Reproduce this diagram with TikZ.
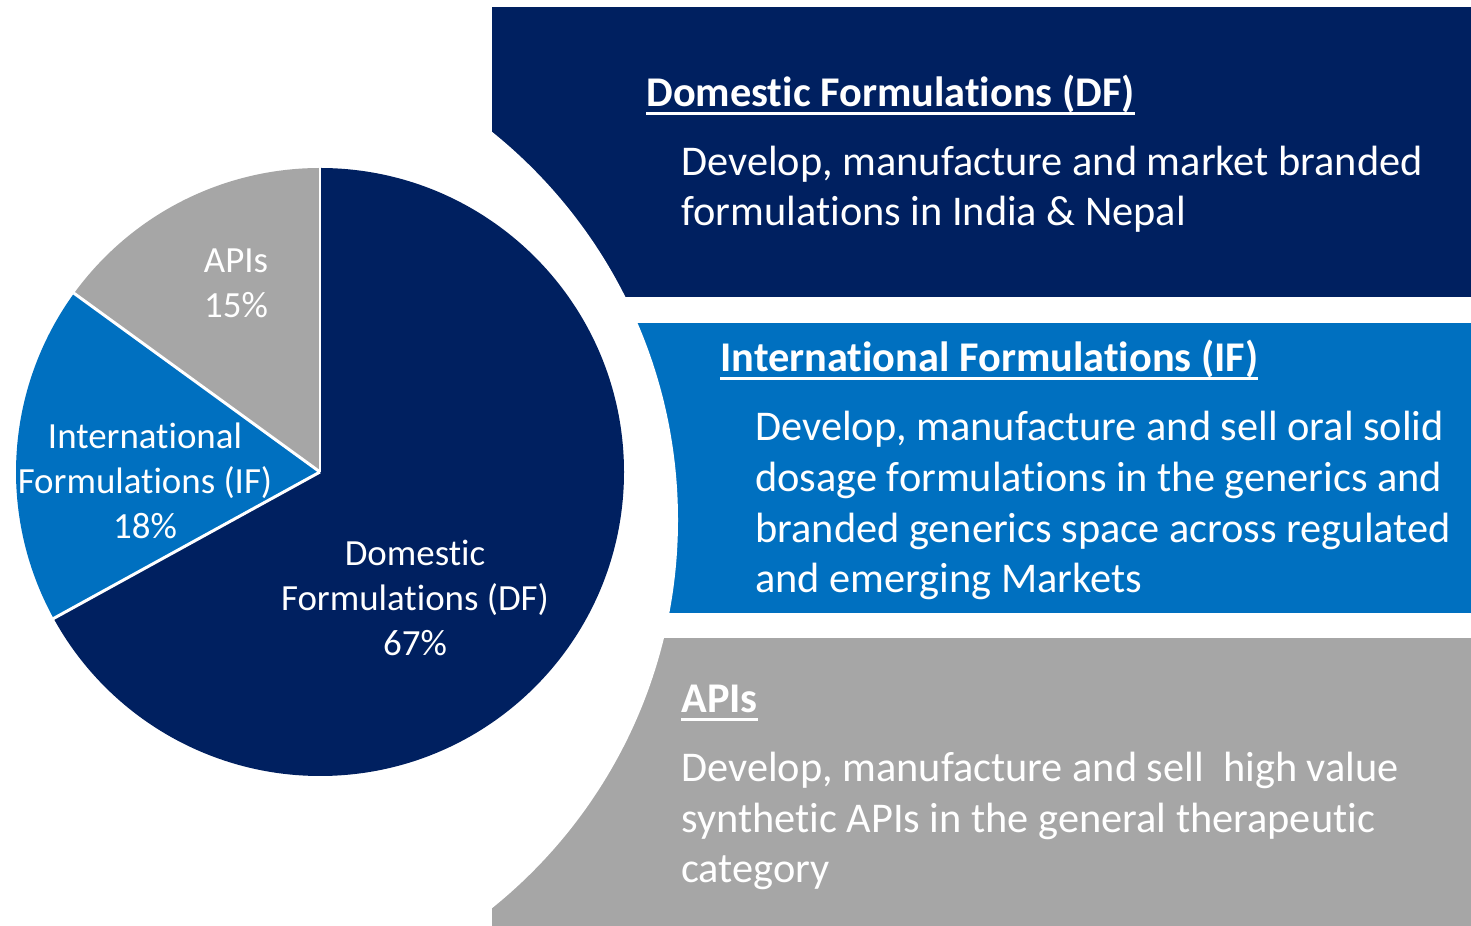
\documentclass[tikz,border=0pt]{standalone}
\usepackage{fontspec}
\setmainfont{Carlito}[Ligatures=NoCommon]
\definecolor{dfblue}{HTML}{002060}
\definecolor{ifblue}{HTML}{0070C0}
\definecolor{apigray}{HTML}{A6A6A6}

\begin{document}
\begin{tikzpicture}[x=0.02cm, y=0.02cm,
	boxtext/.style={text=white, inner sep=0, anchor=base west, align=left, font=\fontsize{24.1}{29}\selectfont},
	boxhead/.style={boxtext, font=\fontsize{24.1}{29}\selectfont\bfseries},
	pielabel/.style={text=white, inner sep=0, anchor=base, align=center, font=\fontsize{21}{25.8}\selectfont},
	sep/.style={white, line width=1.7pt},
	headline/.style={white, line width=1.7pt}]
	\useasboundingbox (0,0) rectangle (1471,926);
	% boxes, cut by a white disc
	\fill [dfblue] (492,629) rectangle (1471,919);
	\fill [ifblue] (492,313) rectangle (1471,603);
	\fill [apigray] (492,0) rectangle (1471,288);
	\fill [white] (180,406) circle [radius=498];
	% pie
	\coordinate (c) at (320,454);
	\fill [dfblue] (c) -- ++(90:304) arc [start angle=90, end angle=-151.2, radius=304] -- cycle;
	\fill [ifblue] (c) -- ++(208.8:304) arc [start angle=208.8, end angle=144, radius=304] -- cycle;
	\fill [apigray] (c) -- ++(144:304) arc [start angle=144, end angle=90, radius=304] -- cycle;
	\draw [sep] (c) -- ++(90:304.5);
	\draw [sep] (c) -- ++(144:304.5);
	\draw [sep] (c) -- ++(208.8:304.5);
	% labels sit on the baseline of their last line
	\node [pielabel] (apilab) at (236,608) {APIs\\15\%};
	\node [pielabel] (iflab) at (145,387) {International\\Formulations (IF)\\18\%};
	\node [pielabel] (dflab) at (415,270) {Domestic\\Formulations (DF)\\67\%};
	% texts
	\node [boxhead] (dfhead) at (646,819) {Domestic Formulations (DF)};
	\node [boxtext] (dftext) at (681,700) {Develop, manufacture and market branded\\formulations in India \& Nepal};
	\node [boxhead] (ifhead) at (720,554) {International Formulations (IF)};
	\node [boxtext] (iftext) at (755,333) {Develop, manufacture and sell oral solid\\dosage formulations in the generics and\\branded generics space across regulated\\and emerging Markets};
	\node [boxhead] (apihead) at (681,213) {APIs};
	\node [boxtext] (apitext) at (681,43) {Develop, manufacture and sell~ high value\\synthetic APIs in the general therapeutic\\category};
	% underlines
	\foreach \h in {dfhead, ifhead, apihead}
		\draw [headline] ([yshift=-3.5pt]\h.base west) -- ([yshift=-3.5pt]\h.base east);
\end{tikzpicture}
\end{document}
